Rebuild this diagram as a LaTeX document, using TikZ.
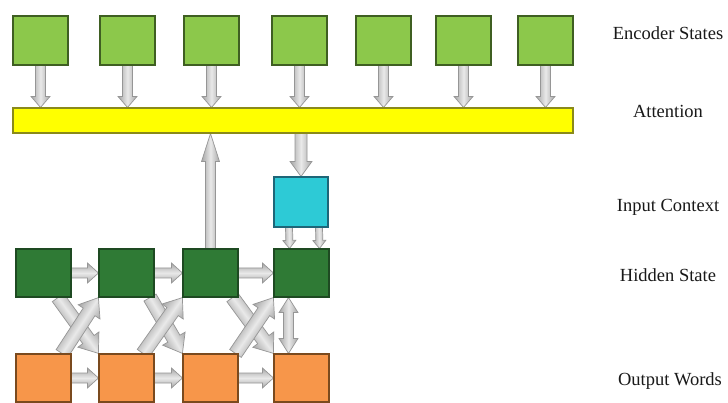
\documentclass[tikz,border=0pt]{standalone}
\usepackage{fontspec}
\setmainfont{Liberation Serif}
\usetikzlibrary{calc}
\pgfdeclarelayer{paperlayer}
\pgfdeclarelayer{arrowlayer}
\pgfsetlayers{paperlayer,arrowlayer,main}

\definecolor{encgreen}{HTML}{8CC84B}
\definecolor{encedge}{HTML}{3F5F22}
\definecolor{hidgreen}{HTML}{2F7A35}
\definecolor{hidedge}{HTML}{1E4A22}
\definecolor{outorange}{HTML}{F7964A}
\definecolor{outedge}{HTML}{7A4A1E}
\definecolor{ctxcyan}{HTML}{2DCAD6}
\definecolor{ctxedge}{HTML}{1E6678}
\definecolor{attyellow}{HTML}{FFFF00}
\definecolor{attedge}{HTML}{8A8A1A}
\definecolor{arrowedge}{HTML}{969696}
\definecolor{arrowside}{HTML}{A6A6A6}
\definecolor{arrowmid}{HTML}{E9E9E9}

\tikzset{
  cell/.style={rectangle, minimum width=55pt, minimum height=48pt, inner sep=0pt, line width=1.1pt},
  encbox/.style={cell, minimum height=49pt, fill=encgreen, draw=encedge},
  hidbox/.style={cell, fill=hidgreen, draw=hidedge},
  outbox/.style={cell, fill=outorange, draw=outedge},
  ctxbox/.style={cell, minimum width=54pt, minimum height=50pt, fill=ctxcyan, draw=ctxedge},
  attbar/.style={rectangle, minimum width=560pt, minimum height=25pt, inner sep=0pt, line width=1.1pt, fill=attyellow, draw=attedge},
  arrowbody/.style={top color=arrowside, bottom color=arrowside, middle color=arrowmid, draw=arrowedge, line width=0.7pt, line join=miter},
  lbl/.style={anchor=base, inner sep=0pt, font=\fontsize{18.5}{22}\selectfont, text=black!90}
}

% Measure the vector from #1 to #2: angle in \farang, length in \farlen (pt)
\newcommand\farmeasure[2]{%
  \path let \p1=($#2-#1$) in \pgfextra{%
    \pgfmathsetmacro\fartmpa{atan2(\y1,\x1)}\global\let\farang\fartmpa
    \pgfmathsetmacro\fartmpb{veclen(\x1,\y1)}\global\let\farlen\fartmpb};
}
% Shaded block arrow: shaft width, head width, head length, start, end
\newcommand\fatarrow[5]{%
  \farmeasure{#4}{#5}%
  \begin{scope}[x=1pt,y=1pt,transform canvas={shift={#4},rotate=\farang}]
    \pgfmathsetmacro\farbase{\farlen-#3}
    \shade[arrowbody] (0,{-#1/2}) -- (\farbase,{-#1/2}) -- (\farbase,{-#2/2}) -- (\farlen,0)
      -- (\farbase,{#2/2}) -- (\farbase,{#1/2}) -- (0,{#1/2}) -- cycle;
  \end{scope}
}
% Shaded block arrow with heads at both ends
\newcommand\fatdarrow[5]{%
  \farmeasure{#4}{#5}%
  \begin{scope}[x=1pt,y=1pt,transform canvas={shift={#4},rotate=\farang}]
    \pgfmathsetmacro\farbase{\farlen-#3}
    \shade[arrowbody] (0,0) -- (#3,{#2/2}) -- (#3,{#1/2}) -- (\farbase,{#1/2}) -- (\farbase,{#2/2})
      -- (\farlen,0) -- (\farbase,{-#2/2}) -- (\farbase,{-#1/2}) -- (#3,{-#1/2}) -- (#3,{-#2/2}) -- cycle;
  \end{scope}
}

\begin{document}
\begin{tikzpicture}[x=1pt,y=-1pt]
  \begin{pgfonlayer}{paperlayer}
    \fill[white] (0,0) rectangle (728,403);
  \end{pgfonlayer}
  \useasboundingbox (0,0) rectangle (728,403);

  % encoder states
  \node[encbox] (e1) at (40.5,40.5) {};
  \node[encbox] (e2) at (127.5,40.5) {};
  \node[encbox] (e3) at (211.5,40.5) {};
  \node[encbox] (e4) at (299.5,40.5) {};
  \node[encbox] (e5) at (383.5,40.5) {};
  \node[encbox] (e6) at (463.5,40.5) {};
  \node[encbox] (e7) at (545.5,40.5) {};

  % attention bar
  \node[attbar] (att) at (293,120.5) {};

  % input context
  \node[ctxbox] (ctx) at (301,202) {};

  % hidden states
  \node[hidbox] (h1) at (43.5,273) {};
  \node[hidbox] (h2) at (126.5,273) {};
  \node[hidbox] (h3) at (210.5,273) {};
  \node[hidbox] (h4) at (301.5,273) {};

  % output words
  \node[outbox] (o1) at (43.5,378) {};
  \node[outbox] (o2) at (126.5,378) {};
  \node[outbox] (o3) at (210.5,378) {};
  \node[outbox] (o4) at (301.5,378) {};

  % row labels
  \node[lbl] (lenc) at (668,40) {Encoder States};
  \node[lbl] (latt) at (668,118) {Attention};
  \node[lbl] (lctx) at (668,212) {Input Context};
  \node[lbl] (lhid) at (668,282) {Hidden State};
  \node[lbl] (lout) at (670,385) {Output Words};

  \begin{pgfonlayer}{arrowlayer}
    % encoder states into attention
    \foreach \i in {1,...,7}{
      \fatarrow{10}{19}{11}{(e\i.south)}{(e\i.south |- att.north)}
    }
    % hidden state up to attention, attention down to context
    \fatarrow{10}{18}{28}{(h3.north)}{(h3.north |- att.south)}
    \fatarrow{12}{22}{15}{(ctx.north |- att.south)}{(ctx.north)}
    % context into hidden state
    \fatarrow{7}{13}{8}{([xshift=-12pt]ctx.south)}{([xshift=-12pt]h4.north)}
    \fatarrow{7}{13}{8}{([xshift=18pt]ctx.south)}{([xshift=18pt]h4.north)}
    % recurrence along the rows
    \fatarrow{10}{20}{11}{(h1.east)}{(h2.west)}
    \fatarrow{10}{20}{11}{(h2.east)}{(h3.west)}
    \fatarrow{10}{20}{11}{(h3.east)}{(h4.west)}
    \fatarrow{10}{20}{11}{(o1.east)}{(o2.west)}
    \fatarrow{10}{20}{11}{(o2.east)}{(o3.west)}
    \fatarrow{10}{20}{11}{(o3.east)}{(o4.west)}
    % crossing links between rows
    \fatarrow{14}{26}{17}{([xshift=14.5pt]h1.south)}{(o2.north west)}
    \fatarrow{14}{26}{17}{([xshift=18.5pt]o1.north)}{(h2.south west)}
    \fatarrow{14}{26}{17}{([xshift=23.5pt]h2.south)}{(o3.north west)}
    \fatarrow{14}{26}{17}{([xshift=16.5pt]o2.north)}{(h3.south west)}
    \fatarrow{14}{26}{17}{([xshift=22pt]h3.south)}{(o4.north west)}
    \fatarrow{14}{26}{17}{([xshift=25pt]o3.north)}{(h4.south west)}
    % two-way link at the last step
    \fatdarrow{10}{19}{15}{([xshift=-13pt]h4.south)}{([xshift=-13pt]o4.north)}
  \end{pgfonlayer}
\end{tikzpicture}
\end{document}
